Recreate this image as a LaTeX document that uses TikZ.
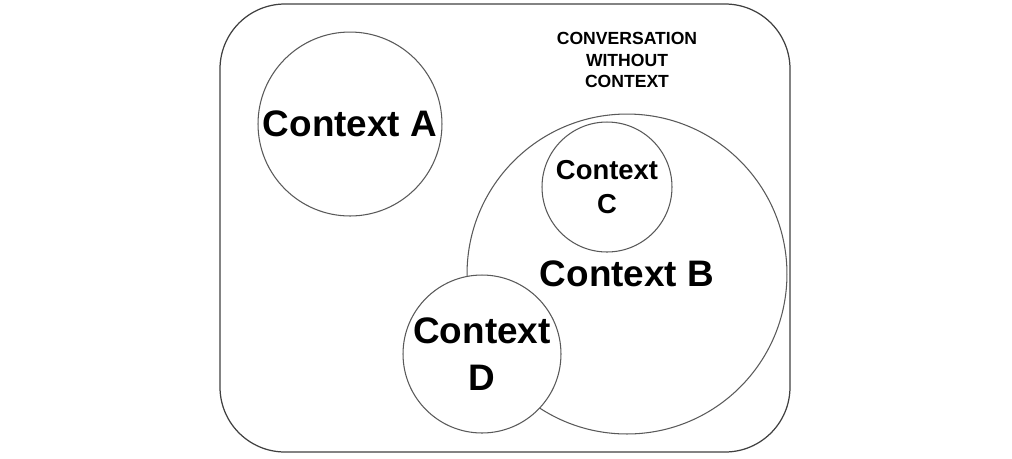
\documentclass[tikz,border=0pt]{standalone}
\usepackage{fontspec}
\setmainfont{Liberation Sans}
\tikzset{
  ctx/.style={circle, draw=black!65, line width=.6pt, fill=white, inner sep=0pt,
    align=center, font=\fontsize{21}{26.7}\selectfont\bfseries},
  ctxsmall/.style={ctx, font=\fontsize{15.6}{19.3}\selectfont\bfseries},
  caption/.style={align=center, font=\fontsize{10}{12.3}\selectfont\bfseries}
}
\begin{document}
\begin{tikzpicture}[x=0.02cm, y=-0.02cm]
  \useasboundingbox (0,0) rectangle (1012,458);
  %%conversation frame
  \draw[black!75, line width=.7pt, rounded corners=1.3cm] (220,4) rectangle (790,452);
  \node[caption] (conv) at (627,60) {CONVERSATION\\WITHOUT\\CONTEXT};
  %%contexts
  \node[ctx, minimum size=3.68cm] (ctxA) at (350,124) {Context A};
  \node[ctx, minimum size=6.4cm] (ctxB) at (627,274) {Context B};
  \node[ctxsmall, minimum size=2.6cm] (ctxC) at (607,187) {Context\\C};
  \node[ctx, minimum size=3.16cm] (ctxD) at (482,354) {Context\\D};
\end{tikzpicture}
\end{document}
